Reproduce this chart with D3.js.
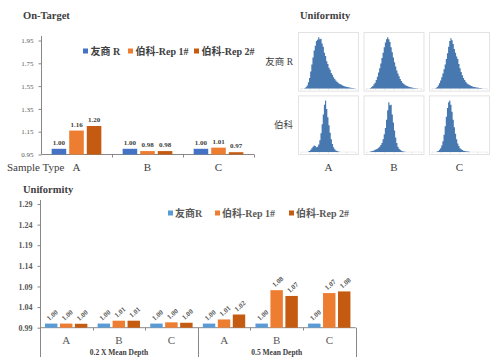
<!DOCTYPE html>
<html><head><meta charset="utf-8">
<script src="https://cdn.jsdelivr.net/npm/d3@7/dist/d3.min.js"></script>
<style>body{margin:0;background:#fff}svg{display:block}</style>
</head><body>
<svg id="c" width="499" height="357"></svg>
<script>
// ---------- DATA ----------
const seriesNames = ["友商 R", "伯科-Rep 1#", "伯科-Rep 2#"];
const bottomSeriesNames = ["友商R", "伯科-Rep 1#", "伯科-Rep 2#"];
const sampleTypes = ["A", "B", "C"];
// On-Target values per sample type (友商R, Rep1, Rep2)
const onTargetR    = [1.00, 1.00, 1.00];
const onTargetRep1 = [1.16, 0.98, 1.01];
const onTargetRep2 = [1.20, 0.98, 0.97];
const onTargetTicks = [0.95, 1.15, 1.35, 1.55, 1.75, 1.95];

// Uniformity (bottom) values
const depthGroups = ["0.2 X Mean Depth", "0.5 Mean Depth"];
const uniR_02    = [1.000, 1.000, 1.000];
const uniRep1_02 = [1.000, 1.007, 1.003];
const uniRep2_02 = [0.9995, 1.007, 1.002];
const uniR_05    = [1.000, 1.000, 1.000];
const uniRep1_05 = [1.010, 1.081, 1.074];
const uniRep2_05 = [1.022, 1.067, 1.078];
const uniLabels02 = [["1.00","1.00","1.00"],["1.00","1.01","1.01"],["1.00","1.00","1.00"]];
const uniLabels05 = [["1.00","1.01","1.02"],["1.00","1.08","1.07"],["1.00","1.07","1.08"]];
const uniTicks = [0.99, 1.04, 1.09, 1.14, 1.19, 1.24, 1.29];

// Histogram panels (relative bin heights), rows: 友商 R, 伯科 ; cols: A, B, C
const histRowLabels = ["友商 R", "伯科"];
const histR_A = [0,0,0,1,3,6,12,20,32,45,58,71,80,89,91,96,92,93,84,78,67,61,51,46,39,35,29,26,21,18,15,13,11,9,8,7,6,5,4,3.5,3,2.5,2,1.5,1,1,0.5,0];
const histR_B = [0,0,0,1,3,5,8,11,16,22,30,38,47,57,67,77,86,92,96,92,87,77,68,58,49,41,34,28,23,18,14,11,9,7,6,5,4,3,2.5,2,1.5,1,1,0.5,0.5,0,0,0];
const histR_C = [0,0,0,1,3,6,10,15,21,28,36,45,55,66,78,89,94,90,83,74,67,60,55,46,38,31,25,20,16,13,10,8,7,6,5,4,3,3,2,2,1.5,1,1,0.5,0,0,0,0];
const histB_A = [0,0,0,0,0,0,1,2,4,7,10,12,11,9,10,14,22,35,52,70,88,96,80,65,50,36,24,15,9,5,3,2,1,0.5,0,0,0,0,0,0,0,0,0,0,0,0,0,0];
const histB_B = [0,0,0,1,1.5,2,3,4,5,6,8,10,13,17,24,33,45,60,78,93,87,88,70,55,40,27,17,10,6,4,2.5,1.5,1,0.5,0,0,0,0,0,0,0,0,0,0,0,0,0,0];
const histB_C = [0,0,0,0,1,2,4,7,12,20,32,48,66,82,93,96,88,75,60,46,34,24,16,11,7,5,3.5,2.5,2,1.5,1,1,0.5,0,0,0,0,0,0,0,0,0,0,0,0,0,0,0];

// ---------- DRAW ----------
const svg = d3.select("#c");
const serif = "'Liberation Serif','Times New Roman','Noto Sans CJK SC',serif";
const colTop = ["#4472C4", "#ED7D31", "#C55A11"];
const colBot = ["#5B9BD5", "#ED7D31", "#C55A11"];
const txt = "#404040", txt2 = "#595959";

// ===== On-Target =====
svg.append("text").attr("x", 23).attr("y", 19).attr("font-family", serif)
  .attr("font-weight", "bold").attr("font-size", 10.5).attr("fill", txt).text("On-Target");

const yT = d3.scaleLinear().domain([0.95, 1.95]).range([154.5, 40.5]);
const xT = d3.scaleBand().domain(sampleTypes).range([41, 254]);
const xT1 = d3.scaleBand().domain(d3.range(3)).range([xT.bandwidth()*0.15, xT.bandwidth()*0.85]).paddingInner(0.17);
const topVals = sampleTypes.map((s, i) => [onTargetR[i], onTargetRep1[i], onTargetRep2[i]]);

const gT = svg.append("g");
const axT = d3.axisLeft(yT).tickValues(onTargetTicks).tickFormat(d3.format(".2f")).tickSize(3).tickPadding(5);
const gAx = gT.append("g").attr("transform", "translate(41.5,0)").call(axT);
gAx.select(".domain").remove();
gAx.selectAll("line").attr("stroke", "#888");
gAx.selectAll("text").attr("font-family", serif).attr("font-size", 7).attr("fill", txt2);
gT.append("line").attr("x1", 41.5).attr("x2", 41.5).attr("y1", 36).attr("y2", 154.5).attr("stroke", "#888");
gT.append("line").attr("x1", 41.5).attr("x2", 254).attr("y1", 154.5).attr("y2", 154.5).attr("stroke", "#888");
[1, 2, 3].forEach(i => {
  const x = Math.round(xT.range()[0] + i * xT.step()) + 0.5;
  gT.append("line").attr("x1", x).attr("x2", x).attr("y1", 154.5).attr("y2", 157.5).attr("stroke", "#888");
});
sampleTypes.forEach((s, i) => {
  topVals[i].forEach((v, j) => {
    const x = xT(s) + xT1(j);
    gT.append("rect").attr("x", x).attr("y", yT(v)).attr("width", xT1.bandwidth())
      .attr("height", yT(0.95) - yT(v)).attr("fill", colTop[j]);
    gT.append("text").attr("x", x + xT1.bandwidth()/2).attr("y", yT(v) - 4)
      .attr("text-anchor", "middle").attr("font-family", serif).attr("font-weight", "bold")
      .attr("font-size", 7).attr("fill", txt).text(d3.format(".2f")(v));
  });
  gT.append("text").attr("x", xT(s) + xT.bandwidth()/2).attr("y", 170.5).attr("text-anchor", "middle")
    .attr("font-family", serif).attr("font-size", 11).attr("fill", txt).text(s);
});
gT.append("text").attr("x", 7).attr("y", 170.5).attr("font-family", serif).attr("font-size", 11)
  .attr("fill", txt).text("Sample Type");
// legend top
const legTopX = [83, 128, 194];
seriesNames.forEach((n, j) => {
  gT.append("rect").attr("x", legTopX[j]).attr("y", 48.5).attr("width", 5).attr("height", 5).attr("fill", colTop[j]);
  gT.append("text").attr("x", legTopX[j] + 7.5).attr("y", 54.5).attr("font-family", serif)
    .attr("font-weight", "bold").attr("font-size", 10).attr("fill", txt).text(n);
});

// ===== Uniformity histograms =====
svg.append("text").attr("x", 300).attr("y", 19).attr("font-family", serif)
  .attr("font-weight", "bold").attr("font-size", 10.5).attr("fill", txt).text("Uniformity");
const panelX = d3.scaleBand().domain(sampleTypes).range([298, 490]).paddingInner(0.07);
const panelY = d3.scaleBand().domain([0, 1]).range([32, 155]).paddingInner(0.06);
const hists = [[histR_A, histR_B, histR_C], [histB_A, histB_B, histB_C]];
hists.forEach((row, r) => {
  row.forEach((bins, c) => {
    const px = panelX(sampleTypes[c]), py = panelY(r), pw = panelX.bandwidth(), ph = panelY.bandwidth();
    const g = svg.append("g");
    g.append("rect").attr("x", px + 0.5).attr("y", py + 0.5).attr("width", pw - 1).attr("height", ph - 1)
      .attr("fill", "#fff").attr("stroke", "#e3e3e3");
    const hx = d3.scaleLinear().domain([0, bins.length]).range([px + 3, px + pw - 3]);
    const hy = d3.scaleLinear().domain([0, 100]).range([py + ph - 3, py + 3]);
    // faint axis ticks
    for (let k = 0; k <= 6; k++) {
      g.append("line").attr("x1", hx(k * bins.length / 6)).attr("x2", hx(k * bins.length / 6))
        .attr("y1", py + ph - 3).attr("y2", py + ph - 1.5).attr("stroke", "#ccc").attr("stroke-width", 0.5);
    }
    g.append("line").attr("x1", px + 3).attr("x2", px + pw - 3).attr("y1", py + ph - 3).attr("y2", py + ph - 3)
      .attr("stroke", "#ddd").attr("stroke-width", 0.5);
    const area = d3.area().curve(d3.curveStepAfter)
      .x((d, i) => hx(i)).y0(hy(0)).y1(d => hy(d));
    g.append("path").datum(bins.concat([0])).attr("d", area).attr("fill", "#4878b0");
  });
  svg.append("text").attr("x", 293).attr("y", panelY(r) + panelY.bandwidth()/2 + 3).attr("text-anchor", "end")
    .attr("font-family", serif).attr("font-size", 9.5).attr("fill", txt).text(histRowLabels[r]);
});
sampleTypes.forEach(s => {
  svg.append("text").attr("x", panelX(s) + panelX.bandwidth()/2).attr("y", 170.5).attr("text-anchor", "middle")
    .attr("font-family", serif).attr("font-size", 11).attr("fill", txt).text(s);
});

// ===== Uniformity bars (bottom) =====
svg.append("text").attr("x", 23).attr("y", 192.5).attr("font-family", serif)
  .attr("font-weight", "bold").attr("font-size", 10.5).attr("fill", txt).text("Uniformity");
const yB = d3.scaleLinear().domain([0.99, 1.29]).range([327.7, 204]);
const catKeys = [];
depthGroups.forEach((g, gi) => sampleTypes.forEach(s => catKeys.push(gi + "|" + s)));
const xB = d3.scaleBand().domain(catKeys).range([40, 355.7]);
const xB1 = d3.scaleBand().domain(d3.range(3)).range([xB.bandwidth()*0.095, xB.bandwidth()*0.9]).paddingInner(0.17);
const botVals = [
  sampleTypes.map((s, i) => [uniR_02[i], uniRep1_02[i], uniRep2_02[i]]),
  sampleTypes.map((s, i) => [uniR_05[i], uniRep1_05[i], uniRep2_05[i]])
];
const botLabels = [uniLabels02, uniLabels05];
const gB = svg.append("g");
const axB = d3.axisLeft(yB).tickValues(uniTicks).tickFormat(d3.format(".2f")).tickSize(3).tickPadding(5);
const gAxB = gB.append("g").attr("transform", "translate(40.5,0)").call(axB);
gAxB.select(".domain").remove();
gAxB.selectAll("line").attr("stroke", "#888");
gAxB.selectAll("text").attr("font-family", serif).attr("font-weight", "bold").attr("font-size", 8).attr("fill", txt2);
gB.append("line").attr("x1", 40.5).attr("x2", 40.5).attr("y1", 200).attr("y2", 357).attr("stroke", "#888");
gB.append("line").attr("x1", 40.5).attr("x2", 355.7).attr("y1", 327.7).attr("y2", 327.7).attr("stroke", "#888");
[1, 2, 4, 5].forEach(i => {
  const x = Math.round(xB.range()[0] + i * xB.step()) + 0.5;
  gB.append("line").attr("x1", x).attr("x2", x).attr("y1", 327.7).attr("y2", 330.5).attr("stroke", "#888");
});
[3, 6].forEach(i => {
  const x = Math.round(xB.range()[0] + i * xB.step()) + 0.5;
  gB.append("line").attr("x1", x).attr("x2", x).attr("y1", 327.7).attr("y2", 357).attr("stroke", "#888");
});
depthGroups.forEach((grp, gi) => {
  sampleTypes.forEach((s, i) => {
    const key = gi + "|" + s;
    botVals[gi][i].forEach((v, j) => {
      const x = xB(key) + xB1(j);
      gB.append("rect").attr("x", x).attr("y", yB(v)).attr("width", xB1.bandwidth())
        .attr("height", yB(0.99) - yB(v)).attr("fill", colBot[j]);
      const cx = x + xB1.bandwidth()/2 + 1, cy = yB(v) - 8.5;
      gB.append("text").attr("transform", `translate(${cx},${cy}) rotate(-42)`)
        .attr("text-anchor", "middle").attr("dy", "0.35em").attr("font-family", serif).attr("font-weight", "bold")
        .attr("font-size", 7).attr("fill", txt2).text(botLabels[gi][i][j]);
    });
    gB.append("text").attr("x", xB(key) + xB.bandwidth()/2).attr("y", 344).attr("text-anchor", "middle")
      .attr("font-family", serif).attr("font-size", 11).attr("fill", txt2).text(s);
  });
  const gx = xB(gi + "|B") + xB.bandwidth()/2;
  gB.append("text").attr("x", gx).attr("y", 355).attr("text-anchor", "middle").attr("font-family", serif)
    .attr("font-weight", "bold").attr("font-size", 7.5).attr("fill", txt).text(grp);
});
const legBotX = [168, 215, 289];
bottomSeriesNames.forEach((n, j) => {
  gB.append("rect").attr("x", legBotX[j]).attr("y", 210.5).attr("width", 5).attr("height", 5).attr("fill", colBot[j]);
  gB.append("text").attr("x", legBotX[j] + 7).attr("y", 216.5).attr("font-family", serif)
    .attr("font-weight", "bold").attr("font-size", 10).attr("fill", txt2).text(n);
});
</script>
</body></html>
